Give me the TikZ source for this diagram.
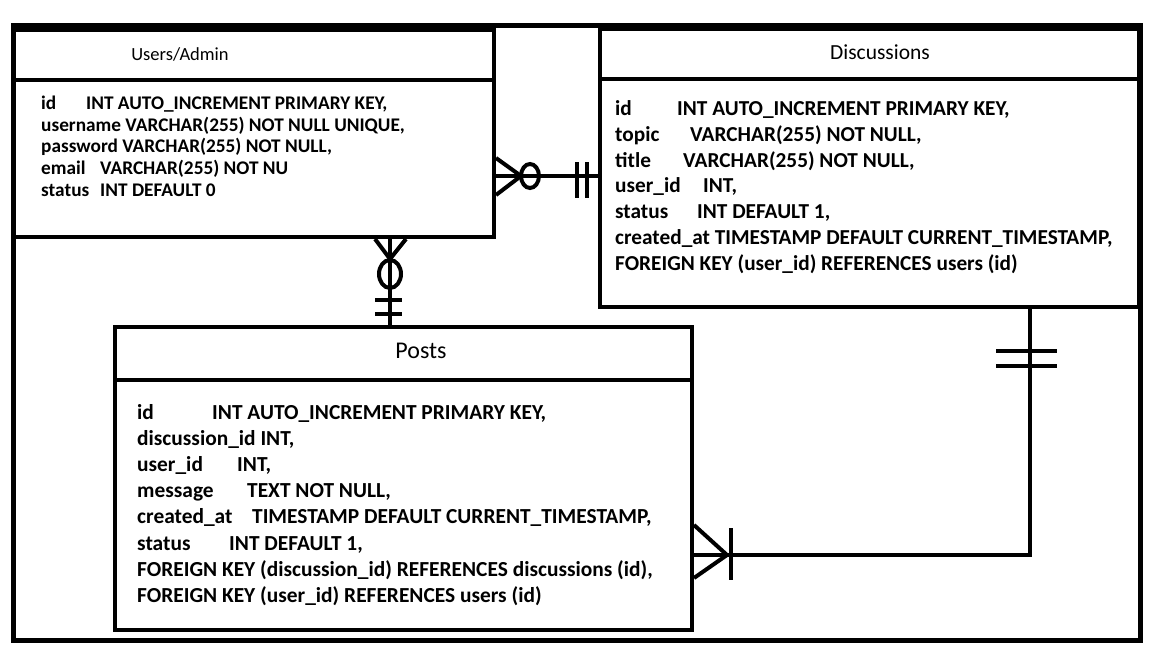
\documentclass[tikz,border=0pt]{standalone}
\usepackage{fontspec}
\setmainfont{Carlito}
\usetikzlibrary{calc, positioning}
\tikzset{
  tbl/.style={draw, line width=4pt, fill=white, anchor=north west, inner sep=0pt},
  ttl/.style={font=\fontsize{18.5}{22}\selectfont, inner sep=0pt},
  fields/.style={align=left, anchor=west, inner sep=0pt},
  rel/.style={line width=4pt},
}
\newcommand{\fcol}[3]{\makebox[#1pt][l]{#2}#3}

\begin{document}
\begin{tikzpicture}[x=1pt, y=-1pt]
  \useasboundingbox (0,0) rectangle (1152,648);
  \draw[line width=5pt] (13,25) rectangle (1140,640);

  % tables
  \node[tbl, minimum width=480pt, minimum height=50pt] (uh) at (12,28) {};
  \node[tbl, minimum width=480pt, minimum height=157pt] (ub) at (12,78) {};
  \node[tbl, minimum width=539pt, minimum height=50pt] (dh) at (598,27) {};
  \node[tbl, minimum width=539pt, minimum height=228pt] (db) at (598,77) {};
  \node[tbl, minimum width=577pt, minimum height=53pt] (ph) at (113,325) {};
  \node[tbl, minimum width=577pt, minimum height=250pt] (pb) at (113,378) {};

  \node[ttl] (ut) at (180,54) {Users/Admin};
  \node[ttl, font=\fontsize{21.5}{26}\selectfont] (dt) at (880,52) {Discussions};
  \node[ttl, font=\fontsize{24}{28}\selectfont] (pt) at (421,351) {Posts};

  \node[fields, font=\bfseries\fontsize{19.3}{21.7}\selectfont] (uf) at (41,146) {%
    \fcol{45}{id}{INT AUTO\_INCREMENT PRIMARY KEY,}\\
    username VARCHAR(255) NOT NULL UNIQUE,\\
    password VARCHAR(255) NOT NULL,\\
    \fcol{59}{email}{VARCHAR(255) NOT NU}\\
    \fcol{59}{status}{INT DEFAULT 0}};
  \node[fields, font=\bfseries\fontsize{21.3}{25.8}\selectfont] (df) at (615,187) {%
    \fcol{62}{id}{INT AUTO\_INCREMENT PRIMARY KEY,}\\
    \fcol{75}{topic}{VARCHAR(255) NOT NULL,}\\
    \fcol{68}{title}{VARCHAR(255) NOT NULL,}\\
    \fcol{88}{user\_id}{INT,}\\
    \fcol{82}{status}{INT DEFAULT 1,}\\
    created\_at TIMESTAMP DEFAULT CURRENT\_TIMESTAMP,\\
    FOREIGN KEY (user\_id) REFERENCES users (id)};
  \node[fields, font=\bfseries\fontsize{21.4}{26.1}\selectfont] (pf) at (137,505) {%
    \fcol{75}{id}{INT AUTO\_INCREMENT PRIMARY KEY,}\\
    discussion\_id INT,\\
    \fcol{100}{user\_id}{INT,}\\
    \fcol{110}{message}{TEXT NOT NULL,}\\
    \fcol{115}{created\_at}{TIMESTAMP DEFAULT CURRENT\_TIMESTAMP,}\\
    \fcol{92}{status}{INT DEFAULT 1,}\\
    FOREIGN KEY (discussion\_id) REFERENCES discussions (id),\\
    FOREIGN KEY (user\_id) REFERENCES users (id)};

  % users -- discussions
  \coordinate (r1a) at (ub.east |- 0,176);
  \coordinate (r1b) at (db.west |- 0,176);
  \draw[rel] (r1a) -- (r1b);
  \draw[rel] ($(r1a)+(0,-18)$) -- ($(r1a)+(25,0)$) -- ($(r1a)+(0,19)$);
  \draw[rel] ($(r1a)+(34,0)$) ellipse [x radius=9pt, y radius=12pt];
  \draw[rel] ($(r1b)+(-21,-14)$) -- ($(r1b)+(-21,22)$);
  \draw[rel] ($(r1b)+(-11,-14)$) -- ($(r1b)+(-11,22)$);

  % users -- posts
  \coordinate (r2a) at (ub.south -| 390,0);
  \coordinate (r2b) at (ph.north -| 390,0);
  \draw[rel] (r2a) -- (r2b);
  \draw[rel] ($(r2a)+(-15,0)$) -- ($(r2a)+(0,20)$) -- ($(r2a)+(16,0)$);
  \draw[rel] ($(r2a)+(0,35)$) ellipse [x radius=11pt, y radius=14pt];
  \draw[rel] ($(r2b)+(-15,-25)$) -- ($(r2b)+(12,-25)$);
  \draw[rel] ($(r2b)+(-15,-11)$) -- ($(r2b)+(12,-11)$);

  % discussions -- posts
  \coordinate (r3a) at (db.south -| 1030,0);
  \coordinate (r3b) at (pb.east |- 0,555);
  \draw[rel] (r3a) |- (r3b);
  \draw[rel] ($(r3a)+(-34,42)$) -- ($(r3a)+(27,42)$);
  \draw[rel] ($(r3a)+(-34,57)$) -- ($(r3a)+(27,57)$);
  \draw[rel] ($(r3b)+(0,-30)$) -- ($(r3b)+(33,0)$) -- ($(r3b)+(0,23)$);
  \draw[rel] ($(r3b)+(37,-27)$) -- ($(r3b)+(37,25)$);
\end{tikzpicture}
\end{document}
